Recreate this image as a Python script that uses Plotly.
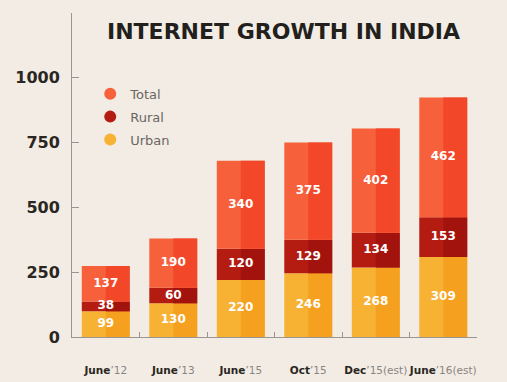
import plotly.graph_objects as go
import numpy as np

categories = ["June'12", "June'13", "June'15", "Oct'15", "Dec'15", "June'16"]
tick_labels = [
    "<b>June</b><span style='color:#8a8580'>’12</span>",
    "<b>June</b><span style='color:#8a8580'>’13</span>",
    "<b>June</b><span style='color:#8a8580'>’15</span>",
    "<b>Oct</b><span style='color:#8a8580'>’15</span>",
    "<b>Dec</b><span style='color:#8a8580'>’15(est)</span>",
    "<b>June</b><span style='color:#8a8580'>’16(est)</span>",
]
urban = [99, 130, 220, 246, 268, 309]
rural = [38, 60, 120, 129, 134, 153]
total = [137, 190, 340, 375, 402, 462]

y_tickvals = [0, 250, 500, 750, 1000, 1250]
y_ticktext = ["0", "250", "500", "750", "1000", ""]

BG = "#f2ece4"
series = [
    ("Urban", urban, "#f7b234", "#f5a11f"),
    ("Rural", rural, "#b41c12", "#a3130d"),
    ("Total", total, "#f6613b", "#f3472a"),
]

fig = go.Figure()
base = np.zeros(len(categories))
text_x, text_y, text_s = [], [], []
for name, vals, light, dark in series:
    v = np.array(vals, dtype=float)
    fig.add_trace(go.Bar(x=categories, y=v, base=base, width=0.71,
                         marker=dict(color=light, line=dict(width=0)),
                         showlegend=False, hoverinfo="skip"))
    fig.add_trace(go.Bar(x=categories, y=v, base=base, width=0.355, offset=0,
                         marker=dict(color=dark, line=dict(width=0)),
                         showlegend=False, hoverinfo="skip"))
    text_x += categories
    text_y += list(base + v / 2)
    text_s += [str(int(t)) for t in vals]
    base = base + v

fig.add_trace(go.Scatter(x=text_x, y=text_y, text=text_s, mode="text",
                         textfont=dict(family="DejaVu Sans", size=12, color="white", weight="bold"),
                         showlegend=False, hoverinfo="skip"))

for i, (name, vals, light, dark) in enumerate(reversed(series)):
    fig.add_trace(go.Scatter(x=[None], y=[None], mode="markers", name=name,
                             legendgroup=name,
                             marker=dict(symbol="circle", size=12, color=light)))

fig.add_annotation(text="<b>INTERNET GROWTH IN INDIA</b>", xref="paper", yref="paper",
                   x=0.521, y=0.944, xanchor="center", yanchor="middle", showarrow=False,
                   font=dict(family="DejaVu Sans", size=22, color="#231f1c"))

fig.update_layout(
    width=507, height=382,
    margin=dict(l=72, r=30, t=13, b=45, autoexpand=False),
    paper_bgcolor=BG, plot_bgcolor=BG,
    barmode="overlay",
    showlegend=True,
    legend=dict(x=0.045, y=0.797, xanchor="left", yanchor="top",
                bgcolor="rgba(0,0,0,0)", traceorder="grouped", tracegroupgap=3,
                font=dict(family="DejaVu Sans", size=13, color="#6b6661")),
    xaxis=dict(type="category", range=[-0.5, 5.5], tickvals=categories, ticktext=tick_labels,
               tickson="boundaries", ticks="inside", ticklen=5, tickcolor="#9a9590",
               showline=True, linecolor="#9a9590", linewidth=1, showgrid=False,
               tickangle=0, automargin=False, ticklabelstandoff=23,
               tickfont=dict(family="DejaVu Sans", size=10.5, color="#2a2622")),
    yaxis=dict(range=[0, 1250], tickvals=y_tickvals, ticktext=y_ticktext,
               ticks="inside", ticklen=7, tickcolor="#9a9590",
               showline=True, linecolor="#9a9590", linewidth=1, showgrid=False,
               zeroline=False, ticklabelstandoff=8, automargin=False,
               tickfont=dict(family="DejaVu Sans", size=16, color="#2a2622", weight="bold")),
)

fig.write_html("out.html")
